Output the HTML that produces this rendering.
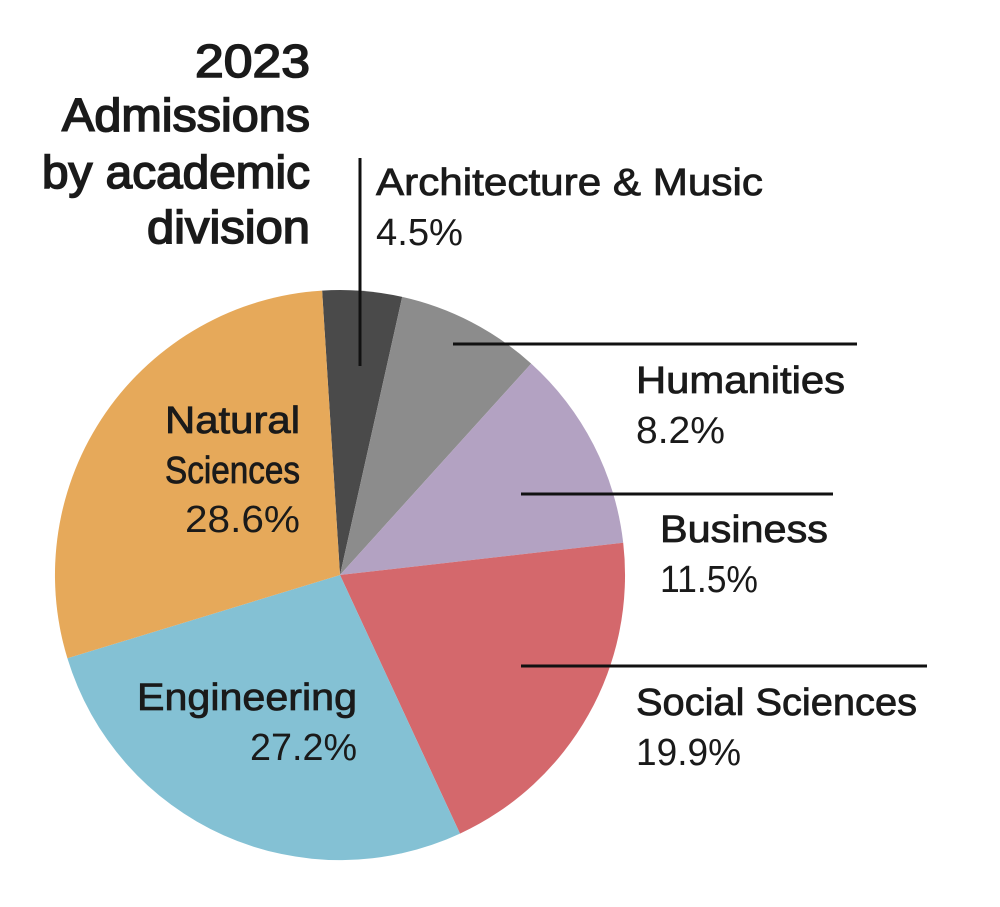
<!DOCTYPE html>
<html><head><meta charset="utf-8"><style>html,body{margin:0;padding:0;background:#fff}svg{display:block}</style></head>
<body>
<svg width="1000" height="907" viewBox="0 0 1000 907" xmlns="http://www.w3.org/2000/svg" font-family="Liberation Sans, sans-serif">
<g stroke="none">
<path d="M340,575 L322.1,290.6 A285,285 0 0,1 402.2,296.9 Z" fill="#4a4a4a"/>
<path d="M340,575 L402.2,296.9 A285,285 0 0,1 531.2,363.6 Z" fill="#8c8c8c"/>
<path d="M340,575 L531.2,363.6 A285,285 0 0,1 623.2,542.8 Z" fill="#b3a2c2"/>
<path d="M340,575 L623.2,542.8 A285,285 0 0,1 460.0,833.6 Z" fill="#d4686c"/>
<path d="M340,575 L460.0,833.6 A285,285 0 0,1 67.4,658.3 Z" fill="#84c1d4"/>
<path d="M340,575 L67.4,658.3 A285,285 0 0,1 322.1,290.6 Z" fill="#e6a95a"/>
</g>
<g stroke="#111" stroke-width="3">
<line x1="360" y1="158" x2="360" y2="366"/>
<line x1="453" y1="344" x2="857" y2="344"/>
<line x1="521" y1="494" x2="833" y2="494"/>
<line x1="521" y1="666" x2="927" y2="666"/>
</g>
<g fill="#1a1a1a" stroke="#1a1a1a" stroke-width="1.6" font-size="46">
<text x="195" y="77" textLength="115" lengthAdjust="spacingAndGlyphs">2023</text>
<text x="62" y="131" textLength="248" lengthAdjust="spacingAndGlyphs">Admissions</text>
<text x="42" y="188" textLength="268" lengthAdjust="spacingAndGlyphs">by academic</text>
<text x="147" y="243" textLength="163" lengthAdjust="spacingAndGlyphs">division</text>
</g>
<g fill="#1a1a1a" stroke="#1a1a1a" stroke-width="0.8" font-size="38">
<text x="376" y="195" textLength="387" lengthAdjust="spacingAndGlyphs">Architecture &amp; Music</text>
<text x="636" y="393" textLength="209" lengthAdjust="spacingAndGlyphs">Humanities</text>
<text x="660" y="542" textLength="168" lengthAdjust="spacingAndGlyphs">Business</text>
<text x="636" y="715" textLength="281" lengthAdjust="spacingAndGlyphs">Social Sciences</text>
<text x="165" y="433" textLength="135" lengthAdjust="spacingAndGlyphs">Natural</text>
<text x="165" y="483" textLength="135" lengthAdjust="spacingAndGlyphs">Sciences</text>
<text x="137" y="710" textLength="220" lengthAdjust="spacingAndGlyphs">Engineering</text>
</g>
<g fill="#1a1a1a" font-size="38">
<text x="376" y="245" textLength="87" lengthAdjust="spacingAndGlyphs">4.5%</text>
<text x="636" y="443" textLength="89" lengthAdjust="spacingAndGlyphs">8.2%</text>
<text x="660" y="592" textLength="98" lengthAdjust="spacingAndGlyphs">11.5%</text>
<text x="636" y="765" textLength="105" lengthAdjust="spacingAndGlyphs">19.9%</text>
<text x="185" y="532" textLength="115" lengthAdjust="spacingAndGlyphs">28.6%</text>
<text x="250" y="760" textLength="107" lengthAdjust="spacingAndGlyphs">27.2%</text>
</g>
</svg>
</body></html>
